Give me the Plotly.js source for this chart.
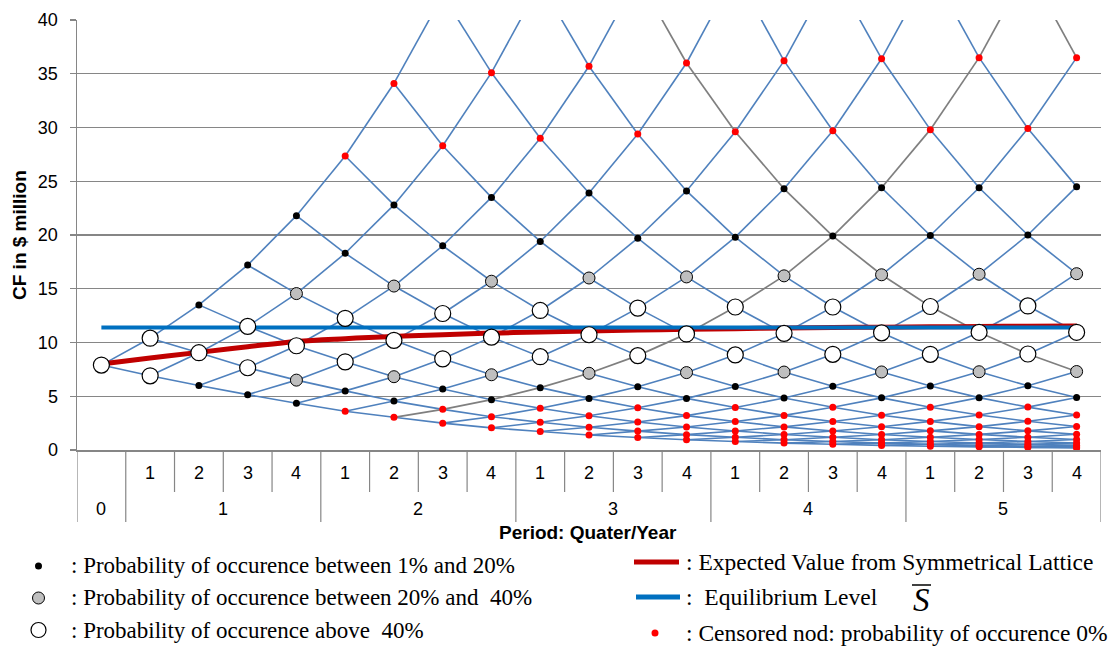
<!DOCTYPE html>
<html><head><meta charset="utf-8">
<script src="https://cdn.plot.ly/plotly-3.0.1.min.js"></script>
<style>html,body{margin:0;padding:0;background:#fff}#chart{width:1112px;height:646px}</style>
</head><body><div id="chart"></div>
<script>
// ---------------- DATA ----------------
// Lattice node values per step (quarter index 0..20), bottom to top.
const step00 = [7.9];
const step01 = [6.9, 10.4];
const step02 = [6.0, 9.05, 13.5];
const step03 = [5.15, 7.65, 11.5, 17.2];
const step04 = [4.35, 6.5, 9.7, 14.55, 21.8];
const step05 = [3.6, 5.5, 8.2, 12.25, 18.3, 27.35];
const step06 = [3.04, 4.55, 6.82, 10.2, 15.25, 22.8, 34.1];
const step07 = [2.5, 3.78, 5.68, 8.48, 12.7, 19.0, 28.3, 42.3];
const step08 = [2.06, 3.1, 4.68, 7.0, 10.5, 15.7, 23.5, 35.1, 52.5];
const step09 = [1.72, 2.58, 3.88, 5.8, 8.68, 12.98, 19.4, 29.0, 43.4];
const step10 = [1.4, 2.12, 3.19, 4.8, 7.14, 10.72, 16.0, 23.9, 35.7, 53.4];
const step11 = [1.16, 1.76, 2.6, 3.93, 5.88, 8.78, 13.2, 19.7, 29.4, 44.0];
const step12 = [0.95, 1.43, 2.14, 3.2, 4.8, 7.2, 10.8, 16.1, 24.1, 36.0, 53.9];
const step13 = [0.79, 1.18, 1.77, 2.65, 3.95, 5.9, 8.85, 13.3, 19.8, 29.6, 44.4];
const step14 = [0.64, 0.96, 1.44, 2.15, 3.22, 4.83, 7.25, 10.85, 16.2, 24.3, 36.2, 54.3];
const step15 = [0.53, 0.79, 1.18, 1.77, 2.65, 3.97, 5.93, 8.9, 13.3, 19.9, 29.7, 44.5];
const step16 = [0.43, 0.64, 0.96, 1.44, 2.16, 3.23, 4.85, 7.26, 10.9, 16.3, 24.4, 36.4, 54.5];
const step17 = [0.35, 0.53, 0.79, 1.18, 1.78, 2.66, 3.98, 5.95, 8.9, 13.35, 19.95, 29.8, 44.7];
const step18 = [0.29, 0.43, 0.65, 0.97, 1.45, 2.17, 3.25, 4.87, 7.28, 10.95, 16.35, 24.4, 36.5, 54.6];
const step19 = [0.24, 0.35, 0.53, 0.79, 1.19, 1.78, 2.67, 3.99, 5.97, 8.93, 13.4, 20.0, 29.9, 44.8];
const step20 = [0.19, 0.29, 0.43, 0.65, 0.97, 1.46, 2.18, 3.26, 4.88, 7.3, 10.95, 16.4, 24.5, 36.5];
const latticeNodes = [step00, step01, step02, step03, step04, step05, step06, step07, step08, step09, step10,
  step11, step12, step13, step14, step15, step16, step17, step18, step19, step20];

// Node class per step, bottom to top: w = above 40%, g = 20-40%, b = 1-20%, r = censored (0%), - = none
const nodeClasses = ["w", "ww", "bwb", "bwwb", "bgwgb", "rbwwbr", "rbgwgbr", "rrbwwbr-", "rrbgwgbr-",
  "rrrbwwbr-", "rrrbgwgbr-", "rrrrbwwbr-", "rrrrbgwgbr-", "rrrrrbwwbr-", "rrrrrbgwgbr-", "rrrrrrbwwbr-",
  "rrrrrrbgwgbr-", "rrrrrrrbwwbr-", "rrrrrrrbgwgbr-", "rrrrrrrrbwwbr-", "rrrrrrrrbgwgbr"];

// Grey highlighted paths: starting step and node level at each following step
const greyPathAStart = 6;
const greyPathALevels = [0, 1, 2, 3, 4, 5, 6, 7, 8, 9, 10, 11, 12, 13, 13];
const greyPathBStart = 10;
const greyPathBLevels = [9, 9, 9, 9, 9, 9, 9, 9, 9, 9, 9];

// Expected value from symmetrical lattice, per step
const expectedValue = [8.0, 8.55, 9.08, 9.6, 10.1, 10.36, 10.56, 10.73, 10.87, 10.98, 11.08,
  11.16, 11.23, 11.29, 11.34, 11.39, 11.43, 11.46, 11.49, 11.51, 11.53];
const equilibriumLevel = 11.4;

// Axis categories
const quarterLabels = ["", "1", "2", "3", "4", "1", "2", "3", "4", "1", "2", "3", "4",
  "1", "2", "3", "4", "1", "2", "3", "4"];
const yearLabels = ["0", "1", "2", "3", "4", "5"];
const yearFirstStep = [0, 1, 5, 9, 13, 17];
const yearLastStep = [0, 4, 8, 12, 16, 20];

// ---------------- BUILD ----------------
const SANS = 'Liberation Sans, Arial, sans-serif';
const SERIF = 'Liberation Serif, Times New Roman, serif';
const steps = latticeNodes.map((_, i) => i);

const greyKeys = new Set();
function addGrey(start, levels) {
  for (let i = 0; i < levels.length - 1; i++) greyKeys.add((start + i) + ':' + levels[i] + ':' + levels[i + 1]);
}
addGrey(greyPathAStart, greyPathALevels);
addGrey(greyPathBStart, greyPathBLevels);

const blueX = [], blueY = [], greyX = [], greyY = [];
for (let t = 0; t < latticeNodes.length - 1; t++) {
  const a = latticeNodes[t], b = latticeNodes[t + 1];
  for (let j = 0; j < a.length; j++) {
    for (const k of [j, j + 1]) {
      if (k >= b.length) continue;
      const key = t + ':' + j + ':' + k;
      const X = greyKeys.has(key) ? greyX : blueX;
      const Y = greyKeys.has(key) ? greyY : blueY;
      X.push(steps[t], steps[t + 1], null);
      Y.push(a[j], b[k], null);
    }
  }
}

const pts = {w: {x: [], y: []}, g: {x: [], y: []}, b: {x: [], y: []}, r: {x: [], y: []}};
latticeNodes.forEach((vals, t) => {
  vals.forEach((v, j) => {
    const c = nodeClasses[t][j];
    if (pts[c]) { pts[c].x.push(steps[t]); pts[c].y.push(v); }
  });
});

const traces = [
  {x: blueX, y: blueY, mode: 'lines', line: {color: '#4F81BD', width: 1.6}, hoverinfo: 'skip', connectgaps: false},
  {x: greyX, y: greyY, mode: 'lines', line: {color: '#7F7F7F', width: 1.7}, hoverinfo: 'skip', connectgaps: false},
  {x: steps, y: expectedValue, mode: 'lines', line: {color: '#C00000', width: 5, shape: 'spline'}, hoverinfo: 'skip'},
  {x: [steps[0], steps[steps.length - 1]], y: [equilibriumLevel, equilibriumLevel], mode: 'lines',
    line: {color: '#0070C0', width: 4}, hoverinfo: 'skip'},
  {x: pts.r.x, y: pts.r.y, mode: 'markers', marker: {color: '#FF0000', size: 7, line: {width: 0}}, hoverinfo: 'skip'},
  {x: pts.b.x, y: pts.b.y, mode: 'markers', marker: {color: '#000000', size: 7, line: {width: 0}}, hoverinfo: 'skip'},
  {x: pts.g.x, y: pts.g.y, mode: 'markers', marker: {color: '#BFBFBF', size: 12, line: {color: '#000', width: 1}}, hoverinfo: 'skip'},
  {x: pts.w.x, y: pts.w.y, mode: 'markers', marker: {color: '#FFFFFF', size: 16, line: {color: '#000', width: 1.2}}, hoverinfo: 'skip'}
];

// pixel helpers for decorations
const PL = 77, PR = 1101, PT = 20, PB = 450;
const pxX = p => (p - PL) / (PR - PL);
const pxY = p => (PB - p) / (PB - PT);

const shapes = [];
const annotations = [];
const AXC = '#868686';

// category table under the x axis
const fullBounds = new Set();
yearFirstStep.forEach(s => fullBounds.add(s - 0.5));
fullBounds.add(yearLastStep[yearLastStep.length - 1] + 0.5);
for (let s = 0; s <= steps.length; s++) {
  const xb = s - 0.5;
  const full = fullBounds.has(xb);
  shapes.push({type: 'line', xref: 'x', yref: 'paper', x0: xb, x1: xb, y0: pxY(450), y1: pxY(full ? 522 : 492),
    line: {color: AXC, width: 1.2}});
}
quarterLabels.forEach((q, i) => {
  if (q) annotations.push({xref: 'x', yref: 'paper', x: steps[i], y: pxY(473), text: q, showarrow: false,
    xanchor: 'center', yanchor: 'middle', font: {family: SANS, size: 18, color: '#000'}});
});
yearLabels.forEach((yl, i) => {
  annotations.push({xref: 'x', yref: 'paper', x: (yearFirstStep[i] + yearLastStep[i]) / 2, y: pxY(509), text: yl,
    showarrow: false, xanchor: 'center', yanchor: 'middle', font: {family: SANS, size: 18, color: '#000'}});
});
annotations.push({xref: 'paper', yref: 'paper', x: pxX(588), y: pxY(532), text: '<b>Period: Quater/Year</b>',
  showarrow: false, xanchor: 'center', yanchor: 'middle', font: {family: SANS, size: 19, color: '#000'}});
annotations.push({xref: 'paper', yref: 'paper', x: pxX(19), y: pxY(235), text: '<b>CF in $ million</b>',
  textangle: -90, showarrow: false, xanchor: 'center', yanchor: 'middle', font: {family: SANS, size: 19, color: '#000'}});

// legend
function circle(cx, cy, d, fill, lineColor, lw) {
  shapes.push({type: 'circle', xref: 'paper', yref: 'paper', x0: pxX(cx - d / 2), x1: pxX(cx + d / 2),
    y0: pxY(cy + d / 2), y1: pxY(cy - d / 2), fillcolor: fill, line: {color: lineColor, width: lw}});
}
function hline(x0, x1, y, color, w) {
  shapes.push({type: 'line', xref: 'paper', yref: 'paper', x0: pxX(x0), x1: pxX(x1), y0: pxY(y), y1: pxY(y),
    line: {color: color, width: w}});
}
function ltext(x, y, t, size, fam) {
  annotations.push({xref: 'paper', yref: 'paper', x: pxX(x), y: pxY(y), text: t, showarrow: false,
    xanchor: 'left', yanchor: 'middle', font: {family: fam || SERIF, size: size || 23, color: '#000'}});
}
const NB = '\u00A0';
circle(38.5, 566, 7, '#000', '#000', 0);
circle(38.5, 598, 12, '#BFBFBF', '#000', 1);
circle(38.5, 630, 15, '#FFF', '#000', 1.2);
ltext(69, 565, ': Probability of occurence between 1% and 20%');
ltext(69, 597, ': Probability of occurence between 20% and ' + NB + '40%');
ltext(69, 630, ': Probability of occurence above ' + NB + '40%');
hline(634, 679, 562, '#C00000', 5);
hline(636, 680, 597, '#0070C0', 5);
circle(655, 633, 7, '#FF0000', '#FF0000', 0);
ltext(684, 562, ': Expected Value from Symmetrical Lattice', 23.5);
ltext(684, 597, ':' + NB + ' Equilibrium Level', 23.5);
ltext(684, 633, ': Censored nod: probability of occurence 0%', 23.5);
annotations.push({xref: 'paper', yref: 'paper', x: pxX(921), y: pxY(600), text: '<i>S</i>', showarrow: false,
  xanchor: 'center', yanchor: 'middle', font: {family: SERIF, size: 33, color: '#000'}});
hline(912, 931, 585, '#000', 1.5);

const layout = {
  width: 1112, height: 646,
  margin: {l: PL, r: 1112 - PR, t: PT, b: 646 - PB, pad: 0},
  paper_bgcolor: '#fff', plot_bgcolor: '#fff',
  showlegend: false,
  xaxis: {range: [-0.5, 20.5], showgrid: false, zeroline: false, showticklabels: false, ticks: '',
    showline: true, linecolor: AXC, linewidth: 1.5, fixedrange: true},
  yaxis: {range: [0, 40], dtick: 5, tick0: 0, showgrid: true, gridcolor: AXC, gridwidth: 1.3, zeroline: false,
    showline: true, linecolor: AXC, linewidth: 1.5, ticks: 'outside', ticklen: 6, tickcolor: AXC, tickwidth: 1.3,
    ticklabelstandoff: 8, tickfont: {family: SANS, size: 18, color: '#000'}, fixedrange: true},
  shapes: shapes,
  annotations: annotations
};

Plotly.newPlot('chart', traces, layout, {displayModeBar: false, staticPlot: true});
</script>
</body></html>
